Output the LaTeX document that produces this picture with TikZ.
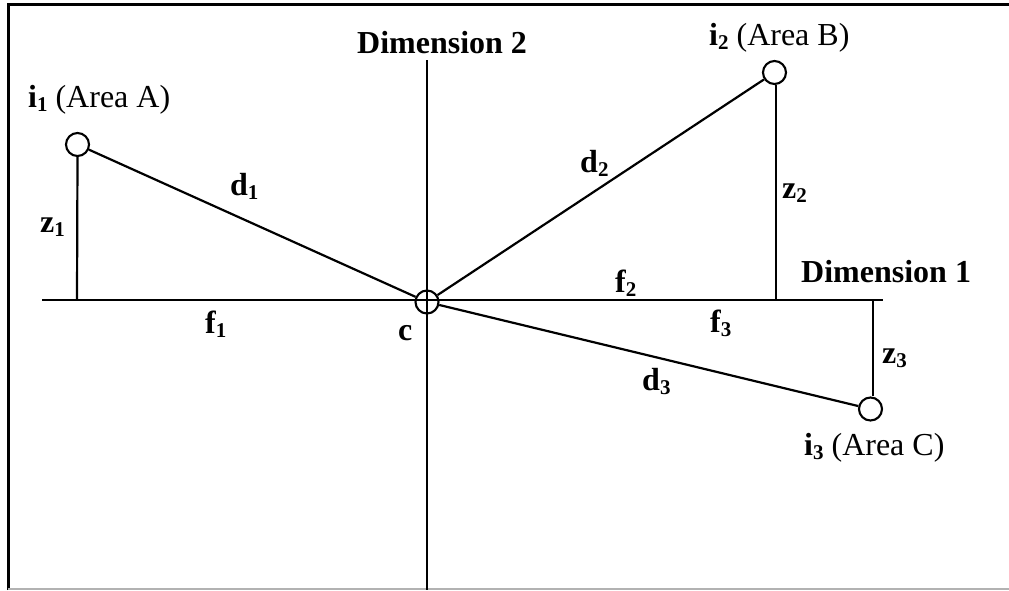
\documentclass[tikz,border=0pt]{standalone}
\usepackage{fontspec}
\setmainfont{Liberation Serif}
\newcommand{\lsub}[1]{\raisebox{-4pt}{\fontsize{21}{21}\selectfont\bfseries #1}}
\begin{document}
\begin{tikzpicture}[x=1pt,y=-1pt,
  pt/.style={circle,draw,line width=2.1pt,minimum size=23pt,inner sep=0pt},
  lbl/.style={anchor=base west,inner sep=0pt,font=\fontsize{32}{36}\selectfont\bfseries},
  lbn/.style={anchor=base west,inner sep=0pt,font=\fontsize{32}{36}\selectfont},
  ln/.style={line width=2.2pt}]
\useasboundingbox (0,0) rectangle (1009,590);
% frame
\draw[line width=3.2pt] (8.5,590) -- (8.5,4.5) -- (1009,4.5);
\draw[line width=1.5pt,gray!60] (8,589) -- (1009,589);
% coordinates
\coordinate (axL) at (42,300);
\coordinate (axR) at (883,300);
\coordinate (axT) at (427,60);
\coordinate (axB) at (427,590);
\coordinate (ft1) at (77,300);
\coordinate (ft2) at (776,300);
\coordinate (ft3) at (873,300);
% points
\node[pt] (c) at (427,302) {};
\node[pt] (i1) at (77.5,144.5) {};
\node[pt] (i2) at (774.5,72.5) {};
\node[pt] (i3) at (870.5,409) {};
% axes
\draw[ln] (axL) -- (axR);
\draw[ln] (axT) -- (axB);
% connectors
\draw[ln] (i1) -- (c);
\draw[ln] (c) -- (i2);
\draw[ln] (c) -- (i3);
\draw[ln] (i1.south) -- (ft1);
\draw[ln] (i2.south -| ft2) -- (ft2);
\draw[ln] (ft3) -- (i3.north -| ft3);
% labels
\node[lbl] (dim2) at (357,53) {Dimension 2};
\node[lbl] (dim1) at (801,282) {Dimension 1};
\node[lbn] (la) at (28,107) {\textbf{i}\lsub{1} (Area A)};
\node[lbn] (lb) at (709,45) {\textbf{i}\lsub{2} (Area B)};
\node[lbn] (lc) at (804,455) {\textbf{i}\lsub{3} (Area C)};
\node[lbl] (ld1) at (230,195) {d\lsub{1}};
\node[lbl] (lz1) at (40,232) {z\lsub{1}};
\node[lbl] (lf1) at (205,333) {f\lsub{1}};
\node[lbl] (lcc) at (398,340) {c};
\node[lbl] (ld2) at (580,172) {d\lsub{2}};
\node[lbl] (lz2) at (782,198) {z\lsub{2}};
\node[lbl] (lf2) at (615,292) {f\lsub{2}};
\node[lbl] (lf3) at (710,332) {f\lsub{3}};
\node[lbl] (ld3) at (642,390) {d\lsub{3}};
\node[lbl] (lz3) at (882,363) {z\lsub{3}};
\end{tikzpicture}
\end{document}
